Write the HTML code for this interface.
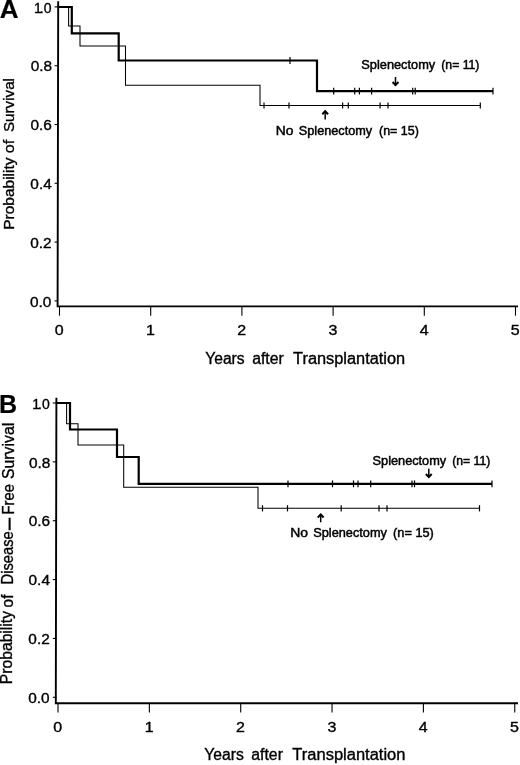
<!DOCTYPE html>
<html><head><meta charset="utf-8"><title>Survival after transplantation</title>
<style>
html,body{margin:0;padding:0;background:#fff;}
svg{display:block;}
text{font-family:"Liberation Sans",sans-serif;fill:#000;stroke:#000;stroke-width:0.35px;}
.tk{font-size:14px;}
.ax{font-size:15.8px;}
.lg{font-size:12px;stroke-width:0.45px;}
.pl{font-weight:bold;fill:#000;stroke-width:0.2px;}
</style></head><body>
<svg width="520" height="765" viewBox="0 0 520 765">
<rect width="520" height="765" fill="#fff"/>

<text class="pl" x="-0.2" y="18.2" style="font-size:26px">A</text>
<path d="M58.2 1.3L57.6 306.4H518" fill="none" stroke="#000" stroke-width="1.9" stroke-linejoin="miter"/>
<path d="M54.6 300.9H58.2" stroke="#000" stroke-width="1.1"/>
<text class="tk" x="30" y="306.6" textLength="21.4" lengthAdjust="spacingAndGlyphs">0.0</text>
<path d="M54.6 242.1H58.2" stroke="#000" stroke-width="1.1"/>
<text class="tk" x="30.18" y="247.8" textLength="21.4" lengthAdjust="spacingAndGlyphs">0.2</text>
<path d="M54.6 183.3H58.2" stroke="#000" stroke-width="1.1"/>
<text class="tk" x="30.36" y="189" textLength="21.4" lengthAdjust="spacingAndGlyphs">0.4</text>
<path d="M54.6 124.5H58.2" stroke="#000" stroke-width="1.1"/>
<text class="tk" x="30.54" y="130.2" textLength="21.4" lengthAdjust="spacingAndGlyphs">0.6</text>
<path d="M54.6 65.7H58.2" stroke="#000" stroke-width="1.1"/>
<text class="tk" x="30.72" y="71.4" textLength="21.4" lengthAdjust="spacingAndGlyphs">0.8</text>
<path d="M54.6 6.9H58.2" stroke="#000" stroke-width="1.1"/>
<text class="tk" y="12.6"><tspan x="34.1">1</tspan><tspan x="39.85">.</tspan><tspan x="43.85">0</tspan></text>
<path d="M59.5 306.4V315.7" stroke="#000" stroke-width="1.1"/>
<text class="tk" x="54.85" y="335.2" textLength="8.9" lengthAdjust="spacingAndGlyphs">0</text>
<path d="M150.7 306.4V315.7" stroke="#000" stroke-width="1.1"/>
<text class="tk" x="146.05" y="335.2" textLength="8.9" lengthAdjust="spacingAndGlyphs">1</text>
<path d="M241.9 306.4V315.7" stroke="#000" stroke-width="1.1"/>
<text class="tk" x="237.25" y="335.2" textLength="8.9" lengthAdjust="spacingAndGlyphs">2</text>
<path d="M333.1 306.4V315.7" stroke="#000" stroke-width="1.1"/>
<text class="tk" x="328.45" y="335.2" textLength="8.9" lengthAdjust="spacingAndGlyphs">3</text>
<path d="M424.3 306.4V315.7" stroke="#000" stroke-width="1.1"/>
<text class="tk" x="419.65" y="335.2" textLength="8.9" lengthAdjust="spacingAndGlyphs">4</text>
<path d="M515.5 306.4V315.7" stroke="#000" stroke-width="1.1"/>
<text class="tk" x="510.85" y="335.2" textLength="8.9" lengthAdjust="spacingAndGlyphs">5</text>
<path d="M58 7L68.6 7L68.6 26L80 26L80 46L125.5 46L125.5 85.3L260 85.3L260 105.5L480.3 105.5" fill="none" stroke="#000" stroke-width="1.05"/>
<path d="M58 7L71.8 7L71.8 33.3L118.7 33.3L118.7 60.5L317 60.5L317 91.1L493 91.1" fill="none" stroke="#000" stroke-width="2.2" stroke-linejoin="miter"/>
<path d="M290 57.1V63.9" stroke="#000" stroke-width="1.2"/>
<path d="M333.7 87.7V94.5" stroke="#000" stroke-width="1.2"/>
<path d="M354.7 87.7V94.5" stroke="#000" stroke-width="1.2"/>
<path d="M359.4 87.7V94.5" stroke="#000" stroke-width="1.2"/>
<path d="M371.6 87.7V94.5" stroke="#000" stroke-width="1.2"/>
<path d="M412.7 87.7V94.5" stroke="#000" stroke-width="1.2"/>
<path d="M415.2 87.7V94.5" stroke="#000" stroke-width="1.2"/>
<path d="M493 87.7V94.5" stroke="#000" stroke-width="1.2"/>
<path d="M264 102.4V108.6" stroke="#000" stroke-width="1.2"/>
<path d="M289 102.4V108.6" stroke="#000" stroke-width="1.2"/>
<path d="M342.6 102.4V108.6" stroke="#000" stroke-width="1.2"/>
<path d="M348.3 102.4V108.6" stroke="#000" stroke-width="1.2"/>
<path d="M380.1 102.4V108.6" stroke="#000" stroke-width="1.2"/>
<path d="M388 102.4V108.6" stroke="#000" stroke-width="1.2"/>
<path d="M480.3 102.4V108.6" stroke="#000" stroke-width="1.2"/>
<text class="ax" style="font-size:15.5px;stroke-width:0.35px" transform="translate(14.1 229.7) rotate(-90)" textLength="72.2" lengthAdjust="spacingAndGlyphs">Probability</text>
<text class="ax" style="font-size:15.5px;stroke-width:0.35px" transform="translate(14.2 153.2) rotate(-90)" textLength="13.5" lengthAdjust="spacingAndGlyphs">of</text>
<text class="ax" style="font-size:15.5px;stroke-width:0.35px" transform="translate(14.3 132) rotate(-90)" textLength="54" lengthAdjust="spacingAndGlyphs">Survival</text>
<text class="ax" x="205.2" y="364" textLength="39.5" lengthAdjust="spacingAndGlyphs">Years</text>
<text class="ax" x="252.2" y="364" textLength="31.6" lengthAdjust="spacingAndGlyphs">after</text>
<text class="ax" x="293.05" y="364" textLength="112.15" lengthAdjust="spacingAndGlyphs">Transplantation</text>
<text class="lg" x="361.3" y="69.3" textLength="73.9" lengthAdjust="spacingAndGlyphs">Splenectomy</text>
<text class="lg" x="441.3" y="69.3" textLength="38.15" lengthAdjust="spacingAndGlyphs">(n= 11)</text>
<text class="lg" x="275.8" y="134.6" textLength="17.7" lengthAdjust="spacingAndGlyphs">No</text>
<text class="lg" x="298.8" y="134.6" textLength="73.4" lengthAdjust="spacingAndGlyphs">Splenectomy</text>
<text class="lg" x="379" y="134.6" textLength="39.8" lengthAdjust="spacingAndGlyphs">(n= 15)</text>
<path d="M325.2 110.8V119.6" stroke="#000" stroke-width="1.5"/>
<path d="M322.3 114.3L325.2 111.2L328.09999999999997 114.3" fill="none" stroke="#000" stroke-width="2"/>
<path d="M395.5 77V85.5" stroke="#000" stroke-width="1.5"/>
<path d="M392.6 82.0L395.5 85.1L398.4 82.0" fill="none" stroke="#000" stroke-width="2"/>
<text class="pl" x="-1" y="412.5" style="font-size:25px">B</text>
<path d="M56.4 397.7L55.8 703.2H518" fill="none" stroke="#000" stroke-width="1.9" stroke-linejoin="miter"/>
<path d="M52.8 697.3H56.4" stroke="#000" stroke-width="1.1"/>
<text class="tk" x="28.2" y="703" textLength="21.4" lengthAdjust="spacingAndGlyphs">0.0</text>
<path d="M52.8 638.44H56.4" stroke="#000" stroke-width="1.1"/>
<text class="tk" x="28.38" y="644.14" textLength="21.4" lengthAdjust="spacingAndGlyphs">0.2</text>
<path d="M52.8 579.58H56.4" stroke="#000" stroke-width="1.1"/>
<text class="tk" x="28.56" y="585.28" textLength="21.4" lengthAdjust="spacingAndGlyphs">0.4</text>
<path d="M52.8 520.72H56.4" stroke="#000" stroke-width="1.1"/>
<text class="tk" x="28.74" y="526.42" textLength="21.4" lengthAdjust="spacingAndGlyphs">0.6</text>
<path d="M52.8 461.86H56.4" stroke="#000" stroke-width="1.1"/>
<text class="tk" x="28.92" y="467.56" textLength="21.4" lengthAdjust="spacingAndGlyphs">0.8</text>
<path d="M52.8 403H56.4" stroke="#000" stroke-width="1.1"/>
<text class="tk" y="408.7"><tspan x="32.3">1</tspan><tspan x="38.05">.</tspan><tspan x="42.05">0</tspan></text>
<path d="M58 703.2V712.5" stroke="#000" stroke-width="1.1"/>
<text class="tk" x="53.35" y="731.8" textLength="8.9" lengthAdjust="spacingAndGlyphs">0</text>
<path d="M149.35 703.2V712.5" stroke="#000" stroke-width="1.1"/>
<text class="tk" x="144.7" y="731.8" textLength="8.9" lengthAdjust="spacingAndGlyphs">1</text>
<path d="M240.7 703.2V712.5" stroke="#000" stroke-width="1.1"/>
<text class="tk" x="236.05" y="731.8" textLength="8.9" lengthAdjust="spacingAndGlyphs">2</text>
<path d="M332.05 703.2V712.5" stroke="#000" stroke-width="1.1"/>
<text class="tk" x="327.4" y="731.8" textLength="8.9" lengthAdjust="spacingAndGlyphs">3</text>
<path d="M423.4 703.2V712.5" stroke="#000" stroke-width="1.1"/>
<text class="tk" x="418.75" y="731.8" textLength="8.9" lengthAdjust="spacingAndGlyphs">4</text>
<path d="M514.75 703.2V712.5" stroke="#000" stroke-width="1.1"/>
<text class="tk" x="510.1" y="731.8" textLength="8.9" lengthAdjust="spacingAndGlyphs">5</text>
<path d="M56.4 403L66.6 403L66.6 423.7L78 423.7L78 445L123.7 445L123.7 487.3L258 487.3L258 508.3L479.5 508.3" fill="none" stroke="#000" stroke-width="1.05"/>
<path d="M56.4 403L70 403L70 429.5L117 429.5L117 457L138.7 457L138.7 483.8L492 483.8" fill="none" stroke="#000" stroke-width="2.2" stroke-linejoin="miter"/>
<path d="M288 480.4V487.2" stroke="#000" stroke-width="1.2"/>
<path d="M332.5 480.4V487.2" stroke="#000" stroke-width="1.2"/>
<path d="M353.5 480.4V487.2" stroke="#000" stroke-width="1.2"/>
<path d="M358 480.4V487.2" stroke="#000" stroke-width="1.2"/>
<path d="M370.7 480.4V487.2" stroke="#000" stroke-width="1.2"/>
<path d="M412 480.4V487.2" stroke="#000" stroke-width="1.2"/>
<path d="M414.5 480.4V487.2" stroke="#000" stroke-width="1.2"/>
<path d="M492 480.4V487.2" stroke="#000" stroke-width="1.2"/>
<path d="M262.5 505.2V511.4" stroke="#000" stroke-width="1.2"/>
<path d="M287.5 505.2V511.4" stroke="#000" stroke-width="1.2"/>
<path d="M341.2 505.2V511.4" stroke="#000" stroke-width="1.2"/>
<path d="M379 505.2V511.4" stroke="#000" stroke-width="1.2"/>
<path d="M387 505.2V511.4" stroke="#000" stroke-width="1.2"/>
<path d="M479.5 505.2V511.4" stroke="#000" stroke-width="1.2"/>
<text class="ax" style="font-size:15.6px;stroke-width:0.35px" transform="translate(12.2 684.2) rotate(-90)" textLength="73.2" lengthAdjust="spacingAndGlyphs">Probability</text>
<text class="ax" style="font-size:15.6px;stroke-width:0.35px" transform="translate(12.6 607.4) rotate(-90)" textLength="12.9" lengthAdjust="spacingAndGlyphs">of</text>
<text class="ax" style="font-size:15.6px;stroke-width:0.35px" transform="translate(12.9 584.4) rotate(-90)" textLength="53.2" lengthAdjust="spacingAndGlyphs">Disease</text>
<text class="ax" style="font-size:15.6px;stroke-width:0.9px" transform="translate(14.2 530.1) rotate(-90)" textLength="11.9" lengthAdjust="spacingAndGlyphs">—</text>
<text class="ax" style="font-size:15.6px;stroke-width:0.35px" transform="translate(13.5 514.4) rotate(-90)" textLength="30.3" lengthAdjust="spacingAndGlyphs">Free</text>
<text class="ax" style="font-size:15.6px;stroke-width:0.35px" transform="translate(13.8 479) rotate(-90)" textLength="56.2" lengthAdjust="spacingAndGlyphs">Survival</text>
<text class="ax" x="204.3" y="760" textLength="39.6" lengthAdjust="spacingAndGlyphs">Years</text>
<text class="ax" x="251.3" y="760" textLength="31.6" lengthAdjust="spacingAndGlyphs">after</text>
<text class="ax" x="292.3" y="760" textLength="113.2" lengthAdjust="spacingAndGlyphs">Transplantation</text>
<text class="lg" x="372.55" y="465.3" textLength="73.65" lengthAdjust="spacingAndGlyphs">Splenectomy</text>
<text class="lg" x="452.3" y="465.3" textLength="37.9" lengthAdjust="spacingAndGlyphs">(n= 11)</text>
<text class="lg" x="290.3" y="536.5" textLength="17.8" lengthAdjust="spacingAndGlyphs">No</text>
<text class="lg" x="313.2" y="536.5" textLength="73.8" lengthAdjust="spacingAndGlyphs">Splenectomy</text>
<text class="lg" x="393.1" y="536.5" textLength="40.7" lengthAdjust="spacingAndGlyphs">(n= 15)</text>
<path d="M320.7 514V522.3" stroke="#000" stroke-width="1.5"/>
<path d="M317.8 517.5L320.7 514.4L323.59999999999997 517.5" fill="none" stroke="#000" stroke-width="2"/>
<path d="M428.8 468.8V477.5" stroke="#000" stroke-width="1.5"/>
<path d="M425.90000000000003 474.0L428.8 477.1L431.7 474.0" fill="none" stroke="#000" stroke-width="2"/>
</svg></body></html>
